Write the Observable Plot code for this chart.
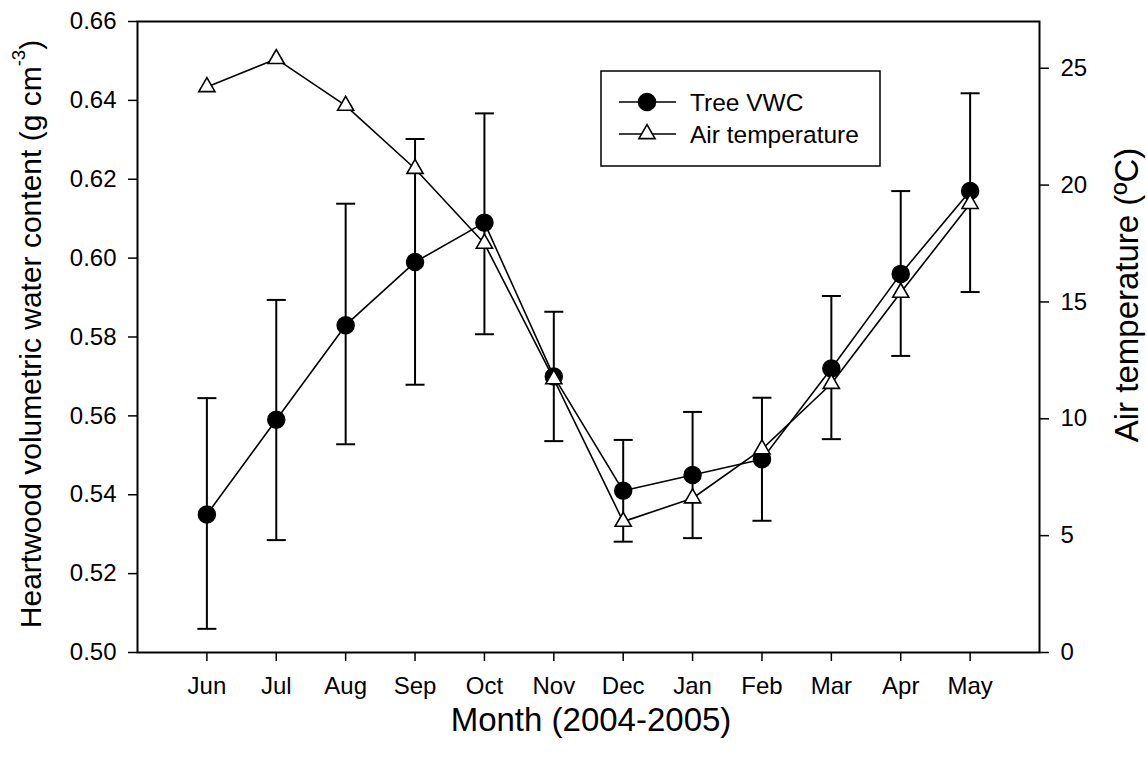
<!DOCTYPE html>
<html>
<head>
<meta charset="utf-8">
<script src="https://cdn.jsdelivr.net/npm/d3@7"></script>
<script src="https://cdn.jsdelivr.net/npm/@observablehq/plot@0.6"></script>
<style>
  body { margin: 0; background: #fff; }
  svg { font-family: "Liberation Sans", Arial, Helvetica, sans-serif; }
</style>
</head>
<body>
<div id="chart"></div>
<script>
// Monthly heartwood water content (mean with error bars) and mean air temperature
const months = ["Jun", "Jul", "Aug", "Sep", "Oct", "Nov", "Dec", "Jan", "Feb", "Mar", "Apr", "May"];
const vwcMean = [0.535, 0.559, 0.583, 0.599, 0.609, 0.570, 0.541, 0.545, 0.549, 0.572, 0.596, 0.617];
const vwcHigh = [0.5645, 0.5894, 0.6138, 0.6302, 0.6367, 0.5864, 0.5539, 0.5610, 0.5646, 0.5904, 0.6170, 0.6418];
const vwcLow  = [0.5060, 0.5285, 0.5528, 0.5679, 0.5807, 0.5536, 0.5281, 0.5290, 0.5334, 0.5541, 0.5752, 0.5914];
const airTemp = [24.2, 25.4, 23.4, 20.7, 17.5, 11.7, 5.6, 6.6, 8.7, 11.5, 15.4, 19.2];

const vwcTicks = [0.50, 0.52, 0.54, 0.56, 0.58, 0.60, 0.62, 0.64, 0.66];
const tempTicks = [0, 5, 10, 15, 20, 25];
const vwcDomain = [0.50, 0.66];
const tempDomain = [0, 27];

// Temperature shares the plot with VWC: map °C onto the left-hand scale
const toY = t => vwcDomain[0] + (t - tempDomain[0]) / (tempDomain[1] - tempDomain[0]) * (vwcDomain[1] - vwcDomain[0]);
const fromY = v => tempDomain[0] + (v - vwcDomain[0]) / (vwcDomain[1] - vwcDomain[0]) * (tempDomain[1] - tempDomain[0]);

const rows = months.map((m, i) => ({
  i, month: m,
  vwc: vwcMean[i], hi: vwcHigh[i], lo: vwcLow[i],
  temp: airTemp[i], tempY: toY(airTemp[i])
}));

// Horizontal cap for the error bars
const capSymbol = {
  draw(ctx, size) {
    const w = Math.sqrt(size / Math.PI);
    ctx.moveTo(-w, 0);
    ctx.lineTo(w, 0);
  }
};

const tickFont = 24;
const legendFont = 24.5;

const plot = Plot.plot({
  width: 1147,
  height: 758,
  marginLeft: 137,
  marginRight: 108,
  marginTop: 21,
  marginBottom: 106,
  style: { fontFamily: '"Liberation Sans", Arial, sans-serif', fontSize: tickFont + "px", color: "#000", background: "#fff", overflow: "visible" },
  x: { type: "linear", domain: [-1, 12] },
  y: { domain: vwcDomain },
  marks: [
    Plot.axisX(d3.range(months.length), { tickFormat: i => months[i], tickSize: 9, tickPadding: 15, strokeWidth: 1.5, label: null }),
    Plot.axisY(vwcTicks, { tickFormat: d3.format(".2f"), tickSize: 9, tickPadding: 12, strokeWidth: 1.5, label: null }),
    Plot.axisY(tempTicks.map(toY), { anchor: "right", tickFormat: v => String(Math.round(fromY(v))), tickSize: 9, tickPadding: 12, strokeWidth: 1.5, label: null }),
    Plot.frame({ stroke: "black", strokeWidth: 2 }),
    // error bars
    Plot.ruleX(rows, { x: "i", y1: "lo", y2: "hi", stroke: "black", strokeWidth: 2 }),
    Plot.dot(rows, { x: "i", y: "hi", symbol: capSymbol, r: 9.5, stroke: "black", strokeWidth: 2 }),
    Plot.dot(rows, { x: "i", y: "lo", symbol: capSymbol, r: 9.5, stroke: "black", strokeWidth: 2 }),
    // series
    Plot.line(rows, { x: "i", y: "vwc", stroke: "black", strokeWidth: 1.6 }),
    Plot.line(rows, { x: "i", y: "tempY", stroke: "black", strokeWidth: 1.6 }),
    Plot.dot(rows, { x: "i", y: "vwc", r: 8.5, fill: "black", stroke: "black" }),
    Plot.dot(rows, { x: "i", y: "tempY", symbol: "triangle", r: 6, fill: "white", stroke: "black", strokeWidth: 1.6 })
  ]
});

document.getElementById("chart").appendChild(plot);

// Axis titles and legend
const svg = d3.select(plot);
const frameLeft = 137, frameRight = 1147 - 108;

const leftTitleFont = 30;
const yTitle = svg.append("text")
  .attr("transform", "translate(33,334) rotate(-90)")
  .attr("text-anchor", "middle")
  .attr("dominant-baseline", "middle")
  .attr("font-size", leftTitleFont)
  .attr("fill", "black");
yTitle.append("tspan").text("Heartwood volumetric water content (g cm");
yTitle.append("tspan").attr("font-size", leftTitleFont * 0.62).attr("dy", "-0.7em").text("-3");
yTitle.append("tspan").attr("dy", "0.45em").text(")");

svg.append("text")
  .attr("transform", "translate(1129,295) rotate(-90)")
  .attr("text-anchor", "middle")
  .attr("dominant-baseline", "middle")
  .attr("font-size", 33)
  .attr("fill", "black")
  .text("Air temperature (ºC)");

svg.append("text")
  .attr("x", (frameLeft + frameRight) / 2 + 3)
  .attr("y", 731)
  .attr("text-anchor", "middle")
  .attr("font-size", 33)
  .attr("fill", "black")
  .text("Month (2004-2005)");

const legend = svg.append("g").attr("transform", "translate(601,71)");
legend.append("rect").attr("width", 279).attr("height", 95).attr("fill", "white").attr("stroke", "black").attr("stroke-width", 1.5);
const entries = [
  { label: "Tree VWC", symbol: d3.symbolCircle, size: Math.PI * 8.5 * 8.5, fill: "black" },
  { label: "Air temperature", symbol: d3.symbolTriangle, size: Math.PI * 6 * 6, fill: "white" }
];
entries.forEach((e, k) => {
  const g = legend.append("g").attr("transform", `translate(0,${31 + k * 32})`);
  g.append("line").attr("x1", 18).attr("x2", 75).attr("stroke", "black").attr("stroke-width", 1.6);
  g.append("path").attr("transform", "translate(46,0)")
    .attr("d", d3.symbol(e.symbol, e.size)())
    .attr("fill", e.fill).attr("stroke", "black").attr("stroke-width", 1.6);
  g.append("text").attr("x", 89).attr("dy", "0.35em").attr("text-anchor", "start")
    .attr("font-size", legendFont).attr("fill", "black").text(e.label);
});
</script>
</body>
</html>
